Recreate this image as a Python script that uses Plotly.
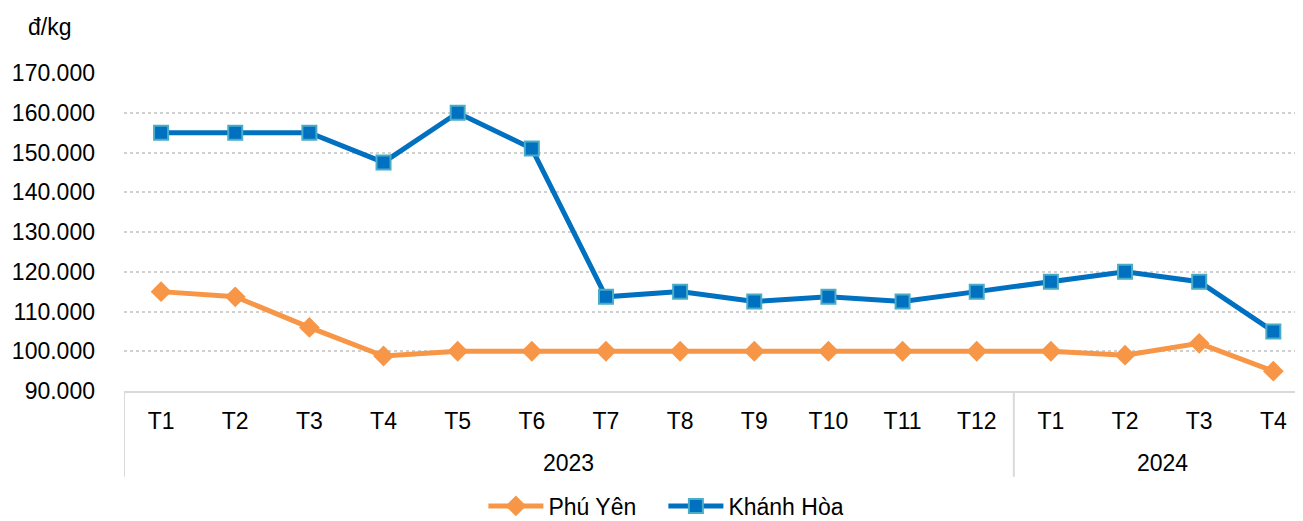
import plotly.graph_objects as go

years = ["2023"] * 12 + ["2024"] * 4
months = ["T1", "T2", "T3", "T4", "T5", "T6", "T7", "T8", "T9", "T10", "T11", "T12",
          "T1", "T2", "T3", "T4"]
phu_yen = [115000, 113700, 106000, 98800, 100000, 100000, 100000, 100000, 100000,
           100000, 100000, 100000, 100000, 99000, 102000, 95000]
khanh_hoa = [155000, 155000, 155000, 147500, 160000, 151000, 113700, 115000, 112500,
             113700, 112500, 115000, 117500, 120000, 117500, 105000]

FONT = "Arial, Liberation Sans, sans-serif"
FS = 23
idx = list(range(len(months)))

fig = go.Figure()
fig.add_trace(go.Scatter(
    x=idx, y=phu_yen, name="Phú Yên", mode="lines+markers",
    line=dict(color="#F79646", width=5),
    marker=dict(symbol="diamond", size=16, color="#F79646"),
))
fig.add_trace(go.Scatter(
    x=idx, y=khanh_hoa, name="Khánh Hòa", mode="lines+markers",
    line=dict(color="#0070C0", width=5),
    marker=dict(symbol="square", size=14, color="#0070C0",
                line=dict(color="#4BACC6", width=2)),
))

# year groups: labels and dividers
groups = []
for i, yv in enumerate(years):
    if not groups or groups[-1][0] != yv:
        groups.append([yv, i, i])
    else:
        groups[-1][2] = i

for yv, a, b in groups:
    fig.add_annotation(text=yv, x=(a + b) / 2, xref="x", y=-0.2264, yref="paper",
                       showarrow=False, xanchor="center", yanchor="middle",
                       font=dict(size=FS))
    fig.add_shape(type="line", x0=a - 0.5, x1=a - 0.5, xref="x",
                  y0=-0.27, y1=0, yref="paper",
                  line=dict(color="#D9D9D9", width=2))

fig.add_annotation(text="đ/kg", xref="paper", yref="paper", x=-0.083, y=1.1447,
                   xanchor="left", yanchor="middle", showarrow=False,
                   font=dict(size=FS))

fig.update_layout(
    width=1303, height=545,
    margin=dict(l=116, r=8, t=65, b=162),
    paper_bgcolor="white", plot_bgcolor="white",
    separators=",.",
    font=dict(family=FONT, size=FS, color="#000000"),
    showlegend=True,
    legend=dict(orientation="h", x=0.4575, xanchor="center", y=-0.3616, yanchor="middle",
                font=dict(size=FS), itemwidth=55, entrywidth=110,
                entrywidthmode="pixels"),
)

fig.update_xaxes(
    range=[-0.5, 15.4], tickvals=idx, ticktext=months,
    showline=True, linecolor="#D9D9D9", linewidth=2,
    showgrid=False, zeroline=False, ticks="", ticklabelstandoff=8,
    tickfont=dict(size=FS), automargin=False,
)
fig.update_yaxes(
    range=[90000, 170000], dtick=10000, tickformat=",d",
    showgrid=True, gridcolor="#D0D0D0", griddash="dot", gridwidth=1.5,
    zeroline=False, showline=False, ticks="", ticklabelstandoff=28,
    tickfont=dict(size=FS), automargin=False,
)

fig.write_html("out.html")
